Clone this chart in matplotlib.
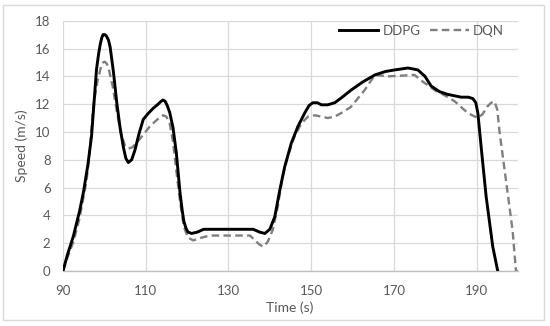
import matplotlib
matplotlib.use("Agg")
import matplotlib.pyplot as plt
from matplotlib.patches import Rectangle

ddpg_t = [90, 91, 92.5, 94, 94.9, 96, 96.9, 97.6, 98.1, 98.6, 99, 99.4, 99.7, 100.1, 100.5,
          101.0, 101.4, 102.2, 103, 103.8, 104.6, 105.2,
          105.8, 106.6, 107.4, 108.4, 109.4, 110.5, 111.8, 113, 113.7, 114.2, 114.7, 115.2, 115.8,
          116.6, 117.4, 118.3, 118.8, 119.2, 119.7, 120.2, 121.1, 122.5, 124, 130, 136, 137.5,
          138.8, 140, 141.2, 142.4, 143.6, 145.2, 146.8, 148.5, 149.5, 150.4, 151.5, 152.5, 154,
          155.7, 157.5, 159.6, 162.5, 165.4, 168, 170.2, 173.4, 175.8, 177.5, 179, 181, 183,
          186.3, 188, 189.1, 189.8, 190.3, 191.1, 192.3, 193.9, 195.1]
ddpg_v = [0, 1.1, 2.5, 4.3, 5.6, 7.6, 9.7, 12.5, 14.5, 15.6, 16.3, 16.8, 17.0, 17.0, 16.9,
          16.6, 16.1, 14.3, 12.1, 10.3, 8.9, 8.1,
          7.8, 8.0, 8.7, 9.9, 10.9, 11.3, 11.7, 12.0, 12.2, 12.3, 12.2, 11.9, 11.4,
          10.3, 8.5, 5.6, 4.4, 3.6, 3.1, 2.8, 2.7, 2.8, 3.0, 3.0, 3.0, 2.8,
          2.7, 3.0, 3.9, 5.8, 7.5, 9.2, 10.4, 11.4, 11.9, 12.1, 12.1, 11.95, 11.95,
          12.1, 12.5, 13.0, 13.6, 14.1, 14.35, 14.46, 14.6, 14.46, 14.0, 13.3, 12.9, 12.7,
          12.5, 12.5, 12.4, 12.1, 11.35, 8.9, 5.35, 1.75, 0]

dqn_t = [90, 91, 92.5, 94, 95.7, 96.5, 97.3, 98.3, 99.2, 99.7, 100.1, 100.6, 101, 102, 103,
         104, 105, 105.8, 106.8, 108.6, 111, 112.8, 114.2, 115, 115.8, 116.6, 117.4, 118.3,
         119.2, 120.2, 121.5, 123.5, 125.5, 130, 135.2, 136.4, 137.5, 138.4, 139.5, 140.7,
         141.9, 143.1, 144.3, 146, 147.6, 149.2, 150.9, 152.5, 154, 155.7, 157.5, 159.6,
         162.9, 165.4, 168.6, 172, 175, 176.6, 179.9, 182.5, 184.7, 187.9, 190.3, 191.5,
         192.5, 193.5, 194.3, 195, 195.5, 197.1, 198.7, 199.5, 200]
dqn_v = [0, 0.9, 2.1, 3.8, 6.5, 8.8, 11.8, 13.6, 14.7, 15.0, 15.05, 14.9, 14.6, 13.3, 11.5,
         9.9, 9.0, 8.8, 8.9, 9.5, 10.4, 10.9, 11.2, 11.1, 10.6, 9.3, 7.2, 5.0,
         3.2, 2.4, 2.2, 2.4, 2.55, 2.55, 2.55, 2.2, 1.9, 1.75, 2.1, 2.95,
         4.6, 6.8, 8.2, 9.7, 10.6, 11.1, 11.2, 11.1, 11.0, 11.1, 11.4, 11.8,
         13.0, 14.1, 14.0, 14.05, 14.1, 13.7, 13.0, 12.6, 12.2, 11.35, 11.0, 11.3,
         11.8, 12.1, 12.2, 11.6, 10.1, 6.5, 2.9, 0, 0]

x_ticks = [90, 110, 130, 150, 170, 190]
y_ticks = [0, 2, 4, 6, 8, 10, 12, 14, 16, 18]

plt.rcParams['font.family'] = ['Lato', 'DejaVu Sans']
txt = '#595959'

fig = plt.figure(figsize=(5.5, 3.26), dpi=100)
ax = fig.add_axes([63/550, 1-271/326, (518-63)/550, (271-20.7)/326])

ax.plot(ddpg_t, ddpg_v, color='black', lw=2.1, label='DDPG', solid_joinstyle='round', zorder=3)
ax.plot(dqn_t, dqn_v, color='#7f7f7f', lw=1.7, dashes=(3.2, 1.8), label='DQN', zorder=2)

ax.set_xlim(90, 200)
ax.set_ylim(0, 18)
ax.set_xticks(x_ticks)
ax.set_yticks(y_ticks)
ax.grid(True, color='#d9d9d9', lw=0.9)
ax.set_axisbelow(True)
for s in ['top', 'right', 'left']:
    ax.spines[s].set_visible(False)
ax.spines['bottom'].set_color('#bfbfbf')
ax.spines['bottom'].set_linewidth(1.0)
ax.tick_params(length=0, labelsize=9.5, colors=txt)
ax.tick_params(axis='y', pad=9)
ax.tick_params(axis='x', pad=10)

fig.text(22/550, 1-146/326, 'Speed (m/s)', rotation=90, ha='center', va='center',
         fontsize=10, color=txt)
fig.text(290/550, 1-308/326, 'Time (s)', ha='center', va='center', fontsize=10, color=txt)

leg = fig.legend(loc='center', bbox_to_anchor=(421.5/550, 1-31/326), ncol=2, frameon=False,
                 fontsize=9.5, handlelength=3.0, columnspacing=0.7, handletextpad=0.3)
for t in leg.get_texts():
    t.set_color(txt)

fig.patches.append(Rectangle((3/550, 1-320/326), 541/550, 315/326, transform=fig.transFigure,
                             fill=False, edgecolor='#d9d9d9', lw=1.0))

fig.savefig('out.png', dpi=100)
